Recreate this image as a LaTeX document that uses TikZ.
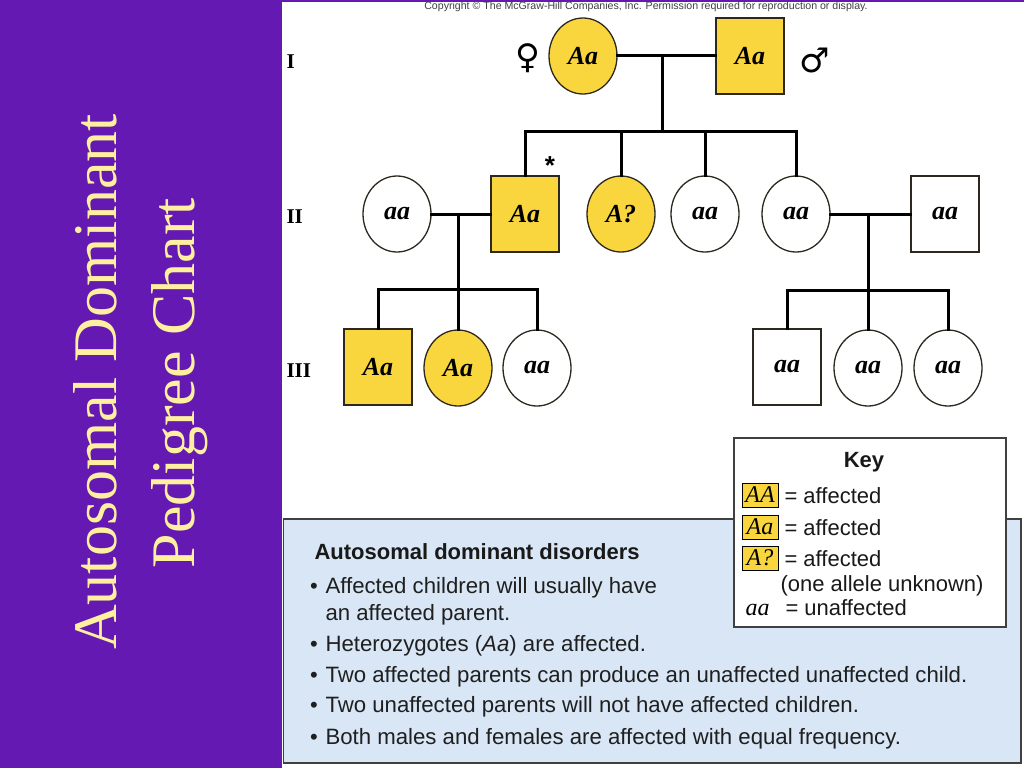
\documentclass[tikz,border=0pt]{standalone}
\usepackage{fontspec}
\setmainfont{Liberation Serif}
\setsansfont{Liberation Sans}
\newfontfamily\symfont{DejaVu Sans}
\usetikzlibrary{shapes.geometric}
\definecolor{pedyellow}{RGB}{250,214,62}
\definecolor{purplebg}{RGB}{100,26,178}
\definecolor{titlecream}{RGB}{255,240,160}
\definecolor{keyblue}{RGB}{216,230,245}
\definecolor{edgedark}{RGB}{45,40,30}
\newcommand{\pedgt}{\fontsize{26}{26}\selectfont\bfseries\itshape}
\begin{document}
\begin{tikzpicture}[x=1pt,y=-1pt,
  conn/.style={line width=3pt, line cap=rect},
  fem/.style={ellipse, draw=edgedark, line width=1.3pt, minimum width=68pt, minimum height=76pt, inner sep=0pt, fill=white, font=\pedgt},
  male/.style={rectangle, draw=edgedark, line width=1.3pt, minimum width=68pt, minimum height=76pt, inner sep=0pt, fill=white, font=\pedgt},
  aff/.style={fill=pedyellow},
  gen/.style={anchor=west, font=\fontsize{21}{21}\selectfont\bfseries},
  sideTitle/.style={rotate=90, anchor=base, text=titlecream, font=\fontsize{62}{62}\selectfont},
  keysw/.style={draw=black, line width=0.8pt, fill=pedyellow, minimum width=36pt, minimum height=24pt, inner sep=0.5pt, font=\fontsize{24}{24}\selectfont\itshape},
  keytxt/.style={anchor=base west, font=\sffamily\fontsize{22}{22}\selectfont, text=black!90},
  bultxt/.style={anchor=base west, font=\sffamily\fontsize{22.2}{22.2}\selectfont, text=black!88},
  bul/.style={anchor=base, font=\sffamily\fontsize{22}{22}\selectfont, text=black!88}
]
\useasboundingbox (0,0) rectangle (1024,768);
% backgrounds
\fill[purplebg] (0,0) rectangle (1024,768);
\fill[white] (282,2) rectangle (1024,768);

% side title
\node[sideTitle] (t1) at (116,382) {Autosomal Dominant};
\node[sideTitle] (t2) at (194,383) {Pedigree Chart};

% copyright
\node[font=\sffamily\fontsize{10.6}{11}\selectfont, text=black!75, inner sep=0pt] (copy) at (646,6.5) {Copyright \textcopyright{} The McGraw-Hill Companies, Inc. Permission required for reproduction or display.};

% generation labels
\node[gen] (gI) at (283,62) {I};
\node[gen] (gII) at (283,217) {II};
\node[gen] (gIII) at (283,371) {III};

% generation I
\node[fem, aff] (f1) at (583,56) {Aa};
\node[male, aff] (m1) at (750,56) {Aa};
\node[font=\symfont\fontsize{34}{34}\selectfont] (fsym) at (528,58) {♀};
\node[font=\symfont\fontsize{34}{34}\selectfont] (msym) at (815,60) {♂};
\coordinate (c1) at (662,56);
\coordinate (sb1) at (662,131);

% generation II
\node[fem] (w2a) at (397,214) {aa};
\node[male, aff] (m2a) at (525,214) {Aa};
\node[font=\sffamily\fontsize{26}{26}\selectfont\bfseries] (ast) at (550,166) {*};
\node[fem, aff] (f2b) at (621,214) {A?};
\node[fem] (f2c) at (705,214) {aa};
\node[fem] (f2d) at (796,214) {aa};
\node[male] (m2e) at (945,214) {aa};
\coordinate (c2a) at (458,214);
\coordinate (sb2a) at (458,289);
\coordinate (c2b) at (868,214);
\coordinate (sb2b) at (868,290);

% generation III
\node[male, aff] (s3a) at (378,367) {Aa};
\node[fem, aff] (f3b) at (458,368) {Aa};
\node[fem] (f3c) at (537,368) {aa};
\node[male] (s3d) at (787,367) {aa};
\node[fem] (f3e) at (868,368) {aa};
\node[fem] (f3f) at (948,368) {aa};

% connectors generation I -> II
\draw[conn] (f1.east) -- (m1.west);
\draw[conn] (c1) -- (sb1);
\draw[conn] (m2a.north) -- (m2a.north |- sb1) -- (f2d.north |- sb1) -- (f2d.north);
\draw[conn] (f2b.north) -- (f2b.north |- sb1);
\draw[conn] (f2c.north) -- (f2c.north |- sb1);

% connectors II -> III (left family)
\draw[conn] (w2a.east) -- (m2a.west);
\draw[conn] (c2a) -- (sb2a);
\draw[conn] (s3a.north) -- (s3a.north |- sb2a) -- (f3c.north |- sb2a) -- (f3c.north);
\draw[conn] (f3b.north) -- (f3b.north |- sb2a);

% connectors II -> III (right family)
\draw[conn] (f2d.east) -- (m2e.west);
\draw[conn] (c2b) -- (sb2b);
\draw[conn] (s3d.north) -- (s3d.north |- sb2b) -- (f3f.north |- sb2b) -- (f3f.north);
\draw[conn] (f3e.north) -- (f3e.north |- sb2b);

% blue text panel
\draw[draw=black!75, line width=1.2pt, fill=keyblue] (283.5,519) rectangle (1021,763);
\node[anchor=base west, font=\sffamily\bfseries\fontsize{22}{22}\selectfont, text=black!90] (hd) at (311,559) {Autosomal dominant disorders};
\node[bul] (b1) at (314,593) {•};
\node[bultxt] (l1) at (322,593) {Affected children will usually have};
\node[bultxt] (l1b) at (322,620) {an affected parent.};
\node[bul] (b2) at (314,651) {•};
\node[bultxt] (l2) at (322,651) {Heterozygotes (\textit{Aa}) are affected.};
\node[bul] (b3) at (314,682) {•};
\node[bultxt] (l3) at (322,682) {Two affected parents can produce an unaffected unaffected child.};
\node[bul] (b4) at (314,712) {•};
\node[bultxt] (l4) at (322,712) {Two unaffected parents will not have affected children.};
\node[bul] (b5) at (314,744) {•};
\node[bultxt] (l5) at (322,744) {Both males and females are affected with equal frequency.};

% key box
\draw[draw=black!75, line width=1.2pt, fill=white] (734,438) rectangle (1006,627);
\node[font=\sffamily\bfseries\fontsize{22}{22}\selectfont, text=black!90] (ktitle) at (864,462) {Key};
\node[keysw] (kAA) at (760,495) {AA};
\node[keytxt] (kAAt) at (781,503) {= affected};
\node[keysw] (kAa) at (760,527) {Aa};
\node[keytxt] (kAat) at (781,535) {= affected};
\node[keysw] (kAq) at (760,558) {A?};
\node[keytxt] (kAqt) at (781,566) {= affected};
\node[keytxt] (kone) at (777,591) {(one allele unknown)};
\node[anchor=base west, font=\fontsize{24}{24}\selectfont\itshape] (kaa) at (742,615) {aa};
\node[keytxt] (kaat) at (782,615) {= unaffected};
\end{tikzpicture}
\end{document}
